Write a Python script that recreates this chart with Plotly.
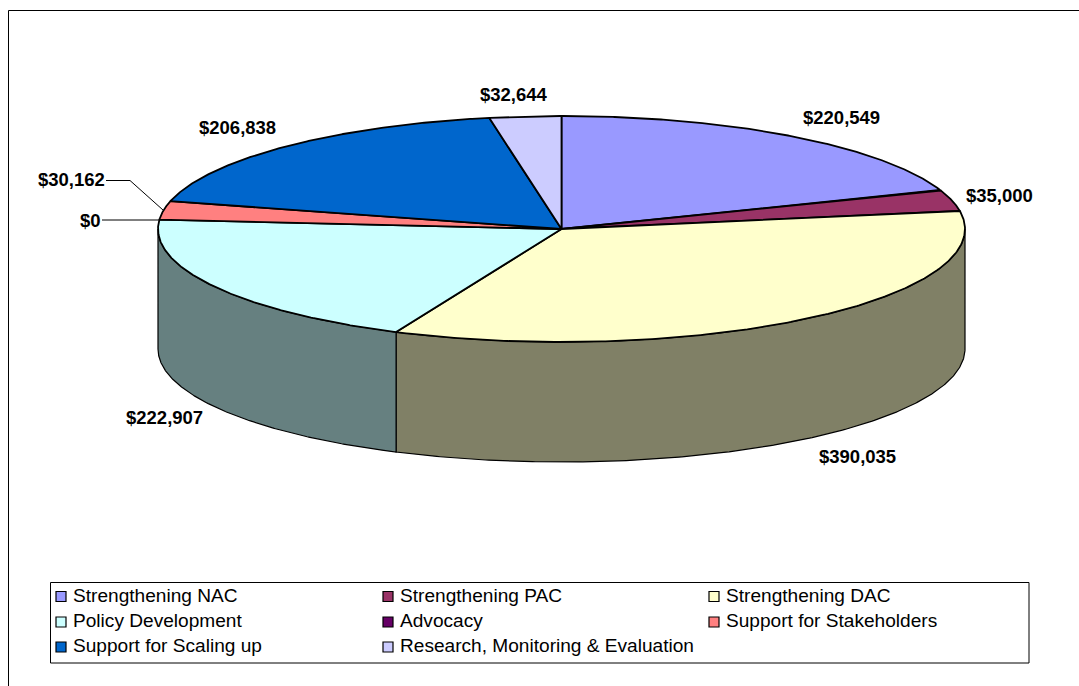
import numpy as np
import plotly.graph_objects as go

categories = ["Strengthening NAC", "Strengthening PAC", "Strengthening DAC", "Policy Development",
              "Advocacy", "Support for Stakeholders", "Support for Scaling up",
              "Research, Monitoring & Evaluation"]
values = [220549, 35000, 390035, 222907, 0, 30162, 206838, 32644]
value_labels = ["$220,549", "$35,000", "$390,035", "$222,907", "$0", "$30,162", "$206,838", "$32,644"]
top_colors = ["#9999FF", "#993366", "#FFFFCC", "#CCFFFF", "#660066", "#FF8080", "#0066CC", "#CCCCFF"]
side_colors = ["#666680", "#664433", "#808066", "#668080", "#440044", "#805050", "#004488", "#666680"]

# Pie geometry, in page pixels (axes below run 1:1 with the page)
CX, CY, RX, RY, DEPTH = 561.5, 229, 403.5, 113, 120
FONT = "Liberation Sans, Arial, sans-serif"
label_xy = [(841, 117), (999, 195), (857, 456), (164, 417), (90, 220), (71, 179), (237, 127), (514, 94)]
LEG_COLS = [61, 388, 714]
LEG_ROWS = [596.5, 622, 647]
LEG_TEXT_DX = 10


def px(t):
    return CX + RX * np.sin(t), CY - RY * np.cos(t)


fracs = np.array(values, float) / sum(values)
edges = np.concatenate([[0], np.cumsum(fracs)]) * 2 * np.pi

fig = go.Figure()

# Outer side walls (front half of the pie only)
for i in range(len(values)):
    a, b = max(edges[i], np.pi / 2), min(edges[i + 1], 3 * np.pi / 2)
    if b <= a:
        continue
    t = np.linspace(a, b, 240)
    x, y = px(t)
    fig.add_trace(go.Scatter(
        x=np.concatenate([x, x[::-1], x[:1]]),
        y=np.concatenate([y, y[::-1] + DEPTH, y[:1]]),
        mode="lines", fill="toself", fillcolor=side_colors[i],
        line=dict(color="black", width=1.2), showlegend=False, hoverinfo="skip"))

# Top faces
for i in range(len(values)):
    if values[i] == 0:
        continue
    t = np.linspace(edges[i], edges[i + 1], 240)
    x, y = px(t)
    fig.add_trace(go.Scatter(
        x=np.concatenate([[CX], x, [CX]]),
        y=np.concatenate([[CY], y, [CY]]),
        mode="lines", fill="toself", fillcolor=top_colors[i],
        line=dict(color="black", width=1.8), showlegend=False,
        name=categories[i], text=value_labels[i], hoverinfo="name+text"))

# Leader lines
fig.add_trace(go.Scatter(x=[106, 130, 163], y=[180.5, 180.5, 210], mode="lines",
                         line=dict(color="black", width=1), showlegend=False, hoverinfo="skip"))
fig.add_trace(go.Scatter(x=[102, 158], y=[220, 220], mode="lines",
                         line=dict(color="black", width=1), showlegend=False, hoverinfo="skip"))

# Value labels
for (lx, ly), txt in zip(label_xy, value_labels):
    fig.add_annotation(x=lx, y=ly, xref="x", yref="y", text=f"<b>{txt}</b>", showarrow=False,
                       font=dict(family=FONT, size=18.5, color="black"))

# Legend: three columns, row by row, in a framed box
for k, (name, c) in enumerate(zip(categories, top_colors)):
    r, col = divmod(k, 3)
    fig.add_trace(go.Scatter(x=[LEG_COLS[col]], y=[LEG_ROWS[r]], mode="markers", name=name,
                             marker=dict(symbol="square", size=10, color=c,
                                         line=dict(color="black", width=1.2)),
                             showlegend=False, hoverinfo="name"))
    fig.add_annotation(x=LEG_COLS[col] + LEG_TEXT_DX, y=LEG_ROWS[r] - 1.5, xref="x", yref="y",
                       text=name, showarrow=False, xanchor="left",
                       font=dict(family=FONT, size=19.1, color="black"))

fig.update_layout(
    width=1079, height=686, margin=dict(l=0, r=0, t=0, b=0),
    paper_bgcolor="white", plot_bgcolor="white", showlegend=False,
    xaxis=dict(range=[0, 1079], visible=False, fixedrange=True),
    yaxis=dict(range=[686, 0], visible=False, fixedrange=True),
    shapes=[
        dict(type="rect", xref="x", yref="y", x0=8.5, y0=10.5, x1=1090, y1=700,
             line=dict(color="black", width=1), layer="below"),
        dict(type="rect", xref="x", yref="y", x0=50.5, y0=582.5, x1=1029, y1=663,
             line=dict(color="black", width=1), layer="below"),
    ],
)

fig.write_html("out.html", config={"displayModeBar": False},
               post_script="document.body.style.margin='0';")
